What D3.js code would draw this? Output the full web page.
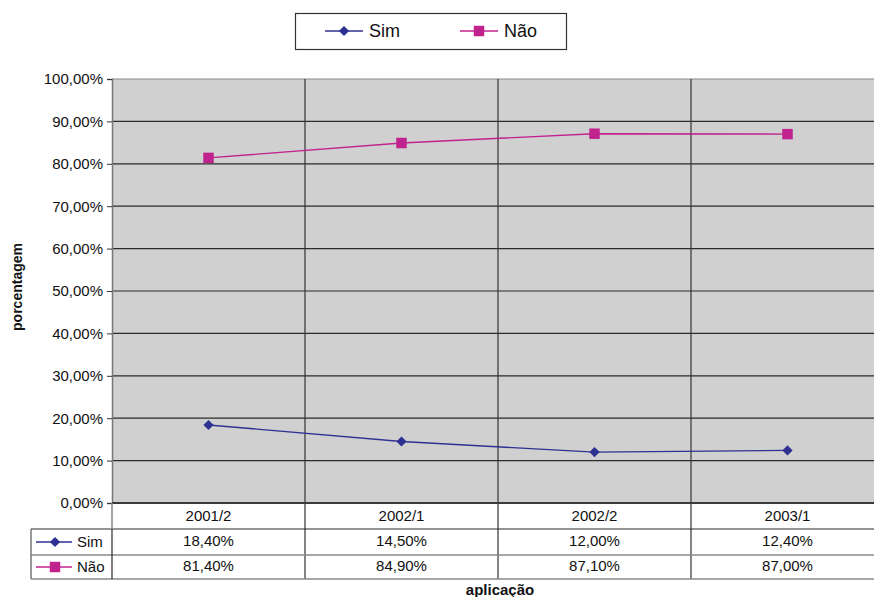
<!DOCTYPE html>
<html>
<head>
<meta charset="utf-8">
<script src="https://cdn.jsdelivr.net/npm/d3@7"></script>
<style>
  html, body { margin: 0; padding: 0; background: #fff; }
  svg { display: block; font-family: "Liberation Sans", Arial, sans-serif; }
</style>
</head>
<body>
<svg id="chart" width="874" height="597"></svg>
<script>
// Survey periods and answer shares (percent)
const periods = ["2001/2", "2002/1", "2002/2", "2003/1"];
const simValues = [18.4, 14.5, 12.0, 12.4];
const naoValues = [81.4, 84.9, 87.1, 87.0];
const yTicks = [0, 10, 20, 30, 40, 50, 60, 70, 80, 90, 100];

const series = [
  { name: "Sim", values: simValues, color: "#2e3192", marker: "diamond" },
  { name: "Não", values: naoValues, color: "#c0228e", marker: "square" }
];

const fmt = v => d3.format(".2f")(v).replace(".", ",") + "%";

const svg = d3.select("#chart");
const plot = { left: 112, right: 884, top: 79, bottom: 503 };

const x = d3.scaleBand().domain(periods).range([plot.left, plot.right]).padding(0);
const y = d3.scaleLinear().domain([0, 100]).range([plot.bottom, plot.top]);

// Plot background
svg.append("rect")
  .attr("x", plot.left).attr("y", plot.top)
  .attr("width", plot.right - plot.left).attr("height", plot.bottom - plot.top)
  .attr("fill", "#d0d0d0");

// Horizontal gridlines
svg.append("g").selectAll("line").data(yTicks.filter(t => t > 0)).join("line")
  .attr("x1", plot.left).attr("x2", plot.right)
  .attr("y1", d => y(d)).attr("y2", d => y(d))
  .attr("stroke", d => d === 100 ? "#8a8a8a" : "#2b2b2b")
  .attr("stroke-width", 1.2);

// Category separators through plot and table
const bounds = periods.slice(1).map(p => x(p));
svg.append("g").selectAll("line").data(bounds).join("line")
  .attr("x1", d => d).attr("x2", d => d)
  .attr("y1", plot.top).attr("y2", 579)
  .attr("stroke", "#333").attr("stroke-width", 1.2);

// Y axis
const yAxis = d3.axisLeft(y).tickValues(yTicks).tickSize(5).tickPadding(4).tickFormat(fmt);
const gy = svg.append("g").attr("transform", `translate(${plot.left},0)`).call(yAxis);
gy.select(".domain").attr("stroke", "#777").attr("stroke-width", 1.5);
gy.selectAll(".tick line").attr("stroke", "#333");
gy.selectAll(".tick text").attr("font-size", 15).attr("fill", "#111")
  .attr("font-family", "Liberation Sans, Arial, sans-serif");

// Zero baseline
svg.append("line")
  .attr("x1", plot.left).attr("x2", plot.right)
  .attr("y1", plot.bottom).attr("y2", plot.bottom)
  .attr("stroke", "#3a3a3a").attr("stroke-width", 2);

// Markers: rotated square for "Sim", square for "Não"
const square = d3.symbol().type(d3.symbolSquare).size(110);
const diamond = d3.symbol().type(d3.symbolSquare).size(52);
function marker(g, s, cx, cy) {
  const isDiamond = s.marker === "diamond";
  g.append("path")
    .attr("d", (isDiamond ? diamond : square)())
    .attr("transform", `translate(${cx},${cy})` + (isDiamond ? " rotate(45)" : ""))
    .attr("fill", s.color);
}

const line = d3.line().x((d, i) => x(periods[i]) + x.bandwidth() / 2).y(d => y(d));
series.forEach(s => {
  svg.append("path").datum(s.values).attr("d", line)
    .attr("fill", "none").attr("stroke", s.color).attr("stroke-width", 1.4);
  const g = svg.append("g");
  s.values.forEach((v, i) => marker(g, s, x(periods[i]) + x.bandwidth() / 2, y(v)));
});

// Data table
const rowY = [503, 529, 555, 579];
const tableLeft = 31;
svg.append("line").attr("x1", tableLeft).attr("x2", plot.right).attr("y1", rowY[1]).attr("y2", rowY[1])
  .attr("stroke", "#2b2b2b").attr("stroke-width", 1.2);
svg.append("line").attr("x1", tableLeft).attr("x2", plot.right).attr("y1", rowY[2]).attr("y2", rowY[2])
  .attr("stroke", "#8a8a8a").attr("stroke-width", 1.5);
svg.append("line").attr("x1", tableLeft).attr("x2", plot.right).attr("y1", rowY[3]).attr("y2", rowY[3])
  .attr("stroke", "#8a8a8a").attr("stroke-width", 1.5);
svg.append("line").attr("x1", tableLeft).attr("x2", tableLeft).attr("y1", rowY[1]).attr("y2", rowY[3])
  .attr("stroke", "#777").attr("stroke-width", 1.5);
svg.append("line").attr("x1", plot.left).attr("x2", plot.left).attr("y1", rowY[0]).attr("y2", rowY[1])
  .attr("stroke", "#888").attr("stroke-width", 1.5);
svg.append("line").attr("x1", plot.left).attr("x2", plot.left).attr("y1", rowY[1]).attr("y2", rowY[3])
  .attr("stroke", "#2b2b2b").attr("stroke-width", 1.2);

// Header row: period labels
svg.append("g").selectAll("text").data(periods).join("text")
  .attr("x", d => x(d) + x.bandwidth() / 2).attr("y", 521)
  .attr("text-anchor", "middle").attr("font-size", 15).attr("fill", "#111")
  .text(d => d);

// Value rows with legend keys
series.forEach((s, r) => {
  const cy = (rowY[r + 1] + rowY[r + 2]) / 2;
  svg.append("line").attr("x1", 36).attr("x2", 72).attr("y1", cy).attr("y2", cy)
    .attr("stroke", s.color).attr("stroke-width", 1.4);
  marker(svg, s, 55, cy);
  svg.append("text").attr("x", 77).attr("y", cy + 5).attr("font-size", 15).attr("fill", "#111").text(s.name);
  svg.append("g").selectAll("text").data(s.values).join("text")
    .attr("x", (d, i) => x(periods[i]) + x.bandwidth() / 2).attr("y", cy + 4)
    .attr("text-anchor", "middle").attr("font-size", 15).attr("fill", "#111")
    .text(d => fmt(d));
});

// Axis titles
svg.append("text").attr("x", 500).attr("y", 595).attr("text-anchor", "middle")
  .attr("font-size", 15).attr("font-weight", "bold").attr("fill", "#111").text("aplicação");
svg.append("text").attr("transform", "translate(22,287) rotate(-90)").attr("text-anchor", "middle")
  .attr("font-size", 14).attr("font-weight", "bold").attr("fill", "#111").text("porcentagem");

// Legend
const legend = svg.append("g");
legend.append("rect").attr("x", 295.5).attr("y", 13.5).attr("width", 271).attr("height", 36)
  .attr("fill", "#fff").attr("stroke", "#333").attr("stroke-width", 1.2);
const legendX = [325, 460];
series.forEach((s, i) => {
  const lx = legendX[i], ly = 31;
  legend.append("line").attr("x1", lx).attr("x2", lx + 38).attr("y1", ly).attr("y2", ly)
    .attr("stroke", s.color).attr("stroke-width", 1.4);
  marker(legend, s, lx + 19, ly);
  legend.append("text").attr("x", lx + 44).attr("y", ly + 6).attr("font-size", 18).attr("fill", "#111").text(s.name);
});
</script>
</body>
</html>
